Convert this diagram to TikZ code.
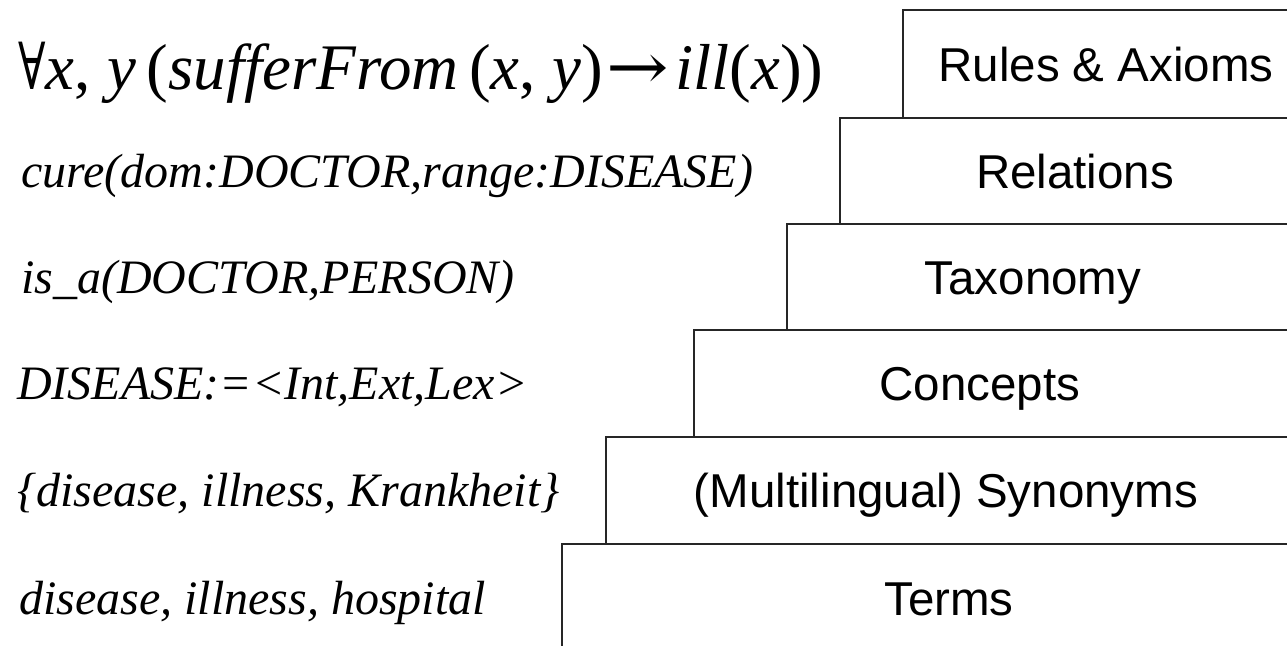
\documentclass[tikz,border=0pt]{standalone}
\usepackage{fontspec}
\setmainfont{Liberation Serif}
\newfontfamily\labelfont{Liberation Sans}
\newfontfamily\symbfont{DejaVu Serif}
\begin{document}
\begin{tikzpicture}[x=1pt,y=-1pt,
  layer/.style={draw=black!85, line width=1.6pt},
  lbl/.style={font=\labelfont\fontsize{47.5}{56}\selectfont, anchor=base, inner sep=0pt},
  ex/.style={font=\itshape\fontsize{48}{58}\selectfont, anchor=base west, inner sep=0pt}]
\useasboundingbox (0,0) rectangle (1287,645);
% box corners
\coordinate (aR) at (1295,10);  \coordinate (aT) at (903,10);  \coordinate (aB) at (903,118);
\coordinate (bR) at (1295,118); \coordinate (bT) at (840,118); \coordinate (bB) at (840,224);
\coordinate (cR) at (1295,224); \coordinate (cT) at (787,224); \coordinate (cB) at (787,330);
\coordinate (dR) at (1295,330); \coordinate (dT) at (694,330); \coordinate (dB) at (694,437);
\coordinate (eR) at (1295,437); \coordinate (eT) at (606,437); \coordinate (eB) at (606,544);
\coordinate (fR) at (1295,544); \coordinate (fT) at (562,544); \coordinate (fB) at (562,650);
\draw[layer] (aR) -- (aT) -- (aB);
\draw[layer] (bR) -- (bT) -- (bB);
\draw[layer] (cR) -- (cT) -- (cB);
\draw[layer] (dR) -- (dT) -- (dB);
\draw[layer] (eR) -- (eT) -- (eB);
\draw[layer] (fR) -- (fT) -- (fB);
% layer labels
\node[lbl] (rules) at (1106,81) {Rules \& Axioms};
\node[lbl] (rel) at (1075,188) {Relations};
\node[lbl] (tax) at (1033,294) {Taxonomy};
\node[lbl] (con) at (980,400) {Concepts};
\node[lbl] (syn) at (946,507) {(Multilingual) Synonyms};
\node[lbl] (ter) at (949,615) {Terms};
% examples
\node[anchor=base west, inner sep=0pt, font=\fontsize{65}{78}\selectfont] (fol) at (18,89)
  {\scalebox{0.7}[1]{\symbfont ∀}\textit{x}, \textit{y}\,(\textit{sufferFrom}\,(\textit{x}, \textit{y})\hspace{4pt}\scalebox{1.15}[1]{\symbfont →}\hspace{6pt}\textit{ill}(\textit{x}))};
\node[ex] (cure) at (21,187) {cure(dom:DOCTOR,range:DISEASE)};
\node[ex] (isa) at (21,293) {is\_a(DOCTOR,PERSON)};
\node[ex] (dis) at (17,399) {DISEASE:=<Int,Ext,Lex>};
\node[ex] (syns) at (17,506) {\{disease, illness, Krankheit\}};
\node[ex] (terms) at (19,614) {disease, illness, hospital};
\end{tikzpicture}
\end{document}
